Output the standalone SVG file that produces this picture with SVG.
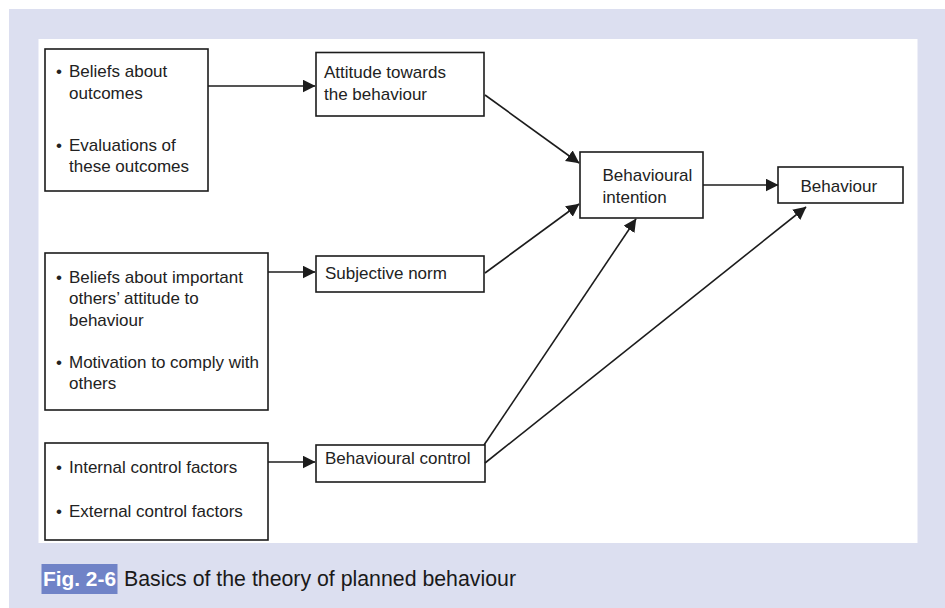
<svg xmlns="http://www.w3.org/2000/svg" width="945" height="608" viewBox="0 0 945 608">
<defs>
<style>
.box{fill:#fff;stroke:#1c1c1c;stroke-width:1.6}
.t{font-family:"Liberation Sans",Arial,Helvetica,sans-serif;font-size:17px;fill:#222}
.con line{stroke:#1c1c1c;stroke-width:1.6;marker-end:url(#ah)}
.cap{font-family:"Liberation Sans",Arial,Helvetica,sans-serif;font-size:21.3px;fill:#1a1a1a}
</style>
<marker id="ah" markerUnits="userSpaceOnUse" markerWidth="14" markerHeight="14" refX="12.5" refY="6.5" orient="auto">
<path d="M0,0 L13,6.5 L0,13 z" fill="#1c1c1c"/>
</marker>
</defs>
<rect x="0" y="0" width="945" height="608" fill="#fff"/>
<rect x="9" y="9" width="936" height="599" fill="#dcdff0"/>
<rect x="38.5" y="39" width="879" height="504" fill="#fff"/>

<g id="beliefs-outcomes">
<rect class="box" x="45" y="49" width="163" height="142"/>
<text class="t" x="56" y="77">•</text><text class="t" x="69" y="77">Beliefs about</text>
<text class="t" x="69" y="99">outcomes</text>
<text class="t" x="56" y="151">•</text><text class="t" x="69" y="151">Evaluations of</text>
<text class="t" x="69" y="172">these outcomes</text>
</g>
<g id="attitude">
<rect class="box" x="316" y="52.5" width="168" height="63.5"/>
<text class="t" x="324" y="78">Attitude towards</text>
<text class="t" x="324" y="100">the behaviour</text>
</g>
<g id="intention">
<rect class="box" x="580" y="152" width="123" height="66"/>
<text class="t" x="602.5" y="181">Behavioural</text>
<text class="t" x="602.5" y="203">intention</text>
</g>
<g id="behaviour">
<rect class="box" x="778" y="167" width="125" height="36"/>
<text class="t" x="800.5" y="192">Behaviour</text>
</g>
<g id="beliefs-others">
<rect class="box" x="45" y="253" width="223" height="157"/>
<text class="t" x="56" y="283">•</text><text class="t" x="69" y="283">Beliefs about important</text>
<text class="t" x="69" y="304">others’ attitude to</text>
<text class="t" x="69" y="326">behaviour</text>
<text class="t" x="56" y="368">•</text><text class="t" x="69" y="368">Motivation to comply with</text>
<text class="t" x="69" y="389">others</text>
</g>
<g id="subjective-norm">
<rect class="box" x="316" y="256" width="168" height="36"/>
<text class="t" x="325" y="279">Subjective norm</text>
</g>
<g id="control-factors">
<rect class="box" x="45" y="443" width="223" height="97"/>
<text class="t" x="56" y="473">•</text><text class="t" x="69" y="473">Internal control factors</text>
<text class="t" x="56" y="517">•</text><text class="t" x="69" y="517">External control factors</text>
</g>
<g id="behavioural-control">
<rect class="box" x="316" y="445" width="169" height="37"/>
<text class="t" x="325" y="463.5">Behavioural control</text>
</g>

<g id="connectors" class="con">
<line x1="208" y1="86" x2="315" y2="86"/>
<line x1="268" y1="272" x2="315" y2="272"/>
<line x1="268" y1="462" x2="315" y2="462"/>
<line x1="485" y1="95" x2="579" y2="163"/>
<line x1="485" y1="273" x2="579" y2="204"/>
<line x1="484" y1="445" x2="636" y2="219"/>
<line x1="485" y1="463" x2="806" y2="207"/>
<line x1="703" y1="185" x2="778" y2="185"/>
</g>

<g id="caption">
<rect x="41.5" y="564" width="76" height="30" fill="#7083c7"/>
<text x="43" y="586" font-family="'Liberation Sans',Arial,sans-serif" font-size="21px" font-weight="bold" fill="#fff" textLength="73" lengthAdjust="spacingAndGlyphs">Fig. 2-6</text>
<text class="cap" x="124" y="586" textLength="392" lengthAdjust="spacingAndGlyphs">Basics of the theory of planned behaviour</text>
</g>
</svg>
